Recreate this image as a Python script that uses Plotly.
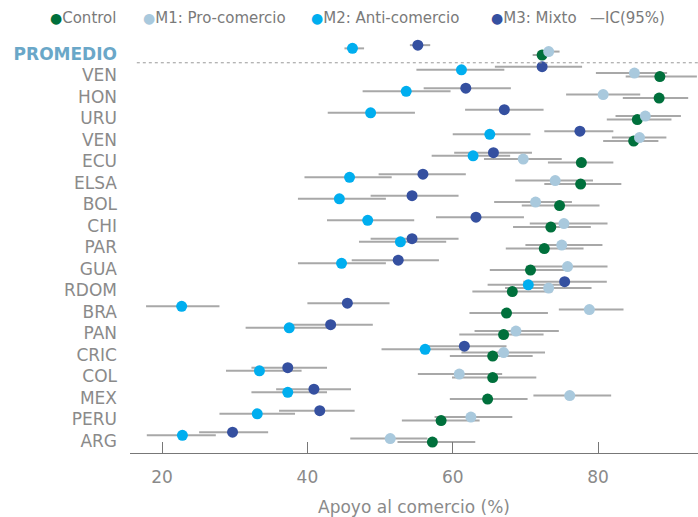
import plotly.graph_objects as go

countries = ["PROMEDIO", "VEN", "HON", "URU", "VEN", "ECU", "ELSA", "BOL", "CHI", "PAR",
             "GUA", "RDOM", "BRA", "PAN", "CRIC", "COL", "MEX", "PERU", "ARG"]

control = [72.3, 88.5, 88.4, 85.4, 84.9, 77.7, 77.6, 74.7, 73.5, 72.6, 70.7, 68.2, 67.4, 67.0, 65.5, 65.5, 64.8, 58.4, 57.2]
control_lo = [71.0, 83.8, 83.4, 81.2, 80.7, 73.1, 72.6, 69.5, 68.3, 67.3, 65.1, 62.7, 62.3, 60.9, 59.6, 59.9, 59.6, 53.0, 52.4]
control_hi = [73.5, 93.6, 92.4, 90.1, 88.3, 82.1, 83.2, 80.2, 79.0, 78.0, 76.0, 73.7, 73.1, 72.5, 71.0, 71.5, 70.3, 63.7, 63.1]

m1 = [73.2, 85.0, 80.7, 86.5, 85.7, 69.7, 74.1, 71.4, 75.3, 75.0, 75.8, 73.2, 78.8, 68.7, 67.0, 60.9, 76.1, 62.5, 51.4]
m1_lo = [71.8, 79.7, 75.6, 82.4, 81.9, 64.3, 68.6, 65.7, 70.6, 70.0, 70.1, 67.2, 74.6, 63.0, 61.2, 55.2, 71.1, 57.5, 45.9]
m1_hi = [74.7, 89.5, 85.8, 91.4, 89.4, 75.0, 79.3, 76.4, 81.3, 80.6, 81.3, 79.1, 83.5, 74.6, 72.7, 66.8, 81.8, 68.2, 56.5]

m2 = [46.2, 61.2, 53.6, 48.7, 65.1, 62.8, 45.8, 44.4, 48.3, 52.8, 44.7, 70.4, 22.7, 37.5, 56.2, 33.4, 37.3, 33.1, 22.8]
m2_lo = [45.1, 55.0, 47.6, 42.8, 60.0, 57.1, 39.6, 38.7, 42.7, 47.1, 38.7, 64.8, 17.8, 31.5, 50.2, 28.8, 32.3, 27.9, 17.9]
m2_hi = [47.8, 67.1, 59.7, 54.8, 70.7, 67.9, 51.6, 50.8, 54.7, 59.1, 50.8, 75.5, 27.9, 42.8, 61.2, 39.2, 42.7, 38.3, 27.4]

m3 = [55.2, 72.3, 61.8, 67.1, 77.5, 65.6, 55.9, 54.4, 63.2, 54.4, 52.5, 75.4, 45.5, 43.2, 61.6, 37.3, 40.9, 41.7, 29.7]
m3_lo = [54.1, 65.8, 56.0, 61.7, 72.6, 60.2, 49.8, 48.7, 57.7, 48.7, 46.1, 69.7, 40.0, 37.2, 56.0, 32.3, 35.7, 36.1, 25.1]
m3_hi = [56.9, 77.8, 68.0, 72.5, 82.1, 70.9, 61.8, 60.8, 69.8, 60.8, 58.1, 81.2, 51.3, 49.0, 67.4, 42.7, 46.0, 46.5, 34.6]

series_names = ["Control", "M1: Pro-comercio", "M2: Anti-comercio", "M3: Mixto"]
tick_values = [20, 40, 60, 80]

# ---- styling ----
FONT = "DejaVu Sans"
GRAY = "#8a8a8a"
colors = ["#00703c", "#a9c9dd", "#00aeef", "#3550a0"]
offsets = [0.0, 0.16, 0.31, 0.46]
CI_COLOR = "#a8a8a8"

n = len(countries)
row = [n - 1 - k for k in range(n)]  # top row has highest y

series = [
    (control, control_lo, control_hi),
    (m1, m1_lo, m1_hi),
    (m2, m2_lo, m2_hi),
    (m3, m3_lo, m3_hi),
]

fig = go.Figure()

# CI segments
ci_x, ci_y = [], []
for s, (vals, lo, hi) in enumerate(series):
    for k in range(n):
        yy = row[k] + offsets[s]
        ci_x += [lo[k], hi[k], None]
        ci_y += [yy, yy, None]
fig.add_trace(go.Scatter(x=ci_x, y=ci_y, mode="lines", name="IC(95%)",
                         line=dict(color=CI_COLOR, width=2), showlegend=False,
                         hoverinfo="skip"))

for s, (vals, lo, hi) in enumerate(series):
    fig.add_trace(go.Scatter(
        x=vals, y=[r + offsets[s] for r in row], mode="markers",
        name=series_names[s], showlegend=False,
        marker=dict(color=colors[s], size=11, line=dict(width=0)),
    ))

ticktext = []
for c in countries:
    if c == "PROMEDIO":
        ticktext.append("<b><span style='color:#6aa7c8'>PROMEDIO</span></b>")
    else:
        ticktext.append(c)

# geometry
mt, mb, ml = 30, 64, 130
plot_h = 517 - mt - mb
px_per_row = 21.5
y0 = -0.51
y1 = y0 + plot_h / px_per_row

fig.update_layout(
    width=698, height=517,
    margin=dict(l=ml, r=0, t=mt, b=mb),
    paper_bgcolor="white", plot_bgcolor="white",
    font=dict(family=FONT, color=GRAY, size=17),
    showlegend=False,
    xaxis=dict(range=[15.59, 93.75], tickvals=tick_values, ticks="inside",
               ticklen=11, tickcolor="#777", tickwidth=1,
               showline=True, linecolor="#777", linewidth=1,
               showgrid=False, zeroline=False,
               tickfont=dict(size=17, color=GRAY),
               ticklabelstandoff=9,
               title=dict(text="Apoyo al comercio (%)", font=dict(size=17, color=GRAY),
                          standoff=14)),
    yaxis=dict(range=[y0, y1], tickvals=[r + 0.05 for r in row], ticktext=ticktext,
               showgrid=False, zeroline=False, showline=False, ticks="",
               tickfont=dict(size=17, color=GRAY), ticklabelstandoff=12),
)

# separator under PROMEDIO
fig.add_shape(type="line", xref="paper", yref="y", x0=0.012, x1=1,
              y0=row[0] - 0.36, y1=row[0] - 0.36,
              line=dict(color="#999", width=1, dash="dot"))

# legend built from text
legend_px = [48, 141, 309, 489, 588]
legend_texts = [
    f"<span style='color:{colors[0]};font-size:14px'>●</span>{series_names[0]}",
    f"<span style='color:{colors[1]};font-size:14px'>●</span>{series_names[1]}",
    f"<span style='color:{colors[2]};font-size:14px'>●</span>{series_names[2]}",
    f"<span style='color:{colors[3]};font-size:14px'>●</span>{series_names[3]}",
    "<span style='color:#888'>—</span>IC(95%)",
]
for px, t in zip(legend_px, legend_texts):
    fig.add_annotation(text=t, xref="paper", yref="paper",
                       x=(px - ml) / (698 - ml), y=(517 - mb - 18) / plot_h,
                       xanchor="left", yanchor="middle", showarrow=False,
                       font=dict(size=15, color="#7a7a7a", family=FONT))

fig.write_html("out.html", config={"displayModeBar": False},
               post_script="document.body.style.margin='0';")
